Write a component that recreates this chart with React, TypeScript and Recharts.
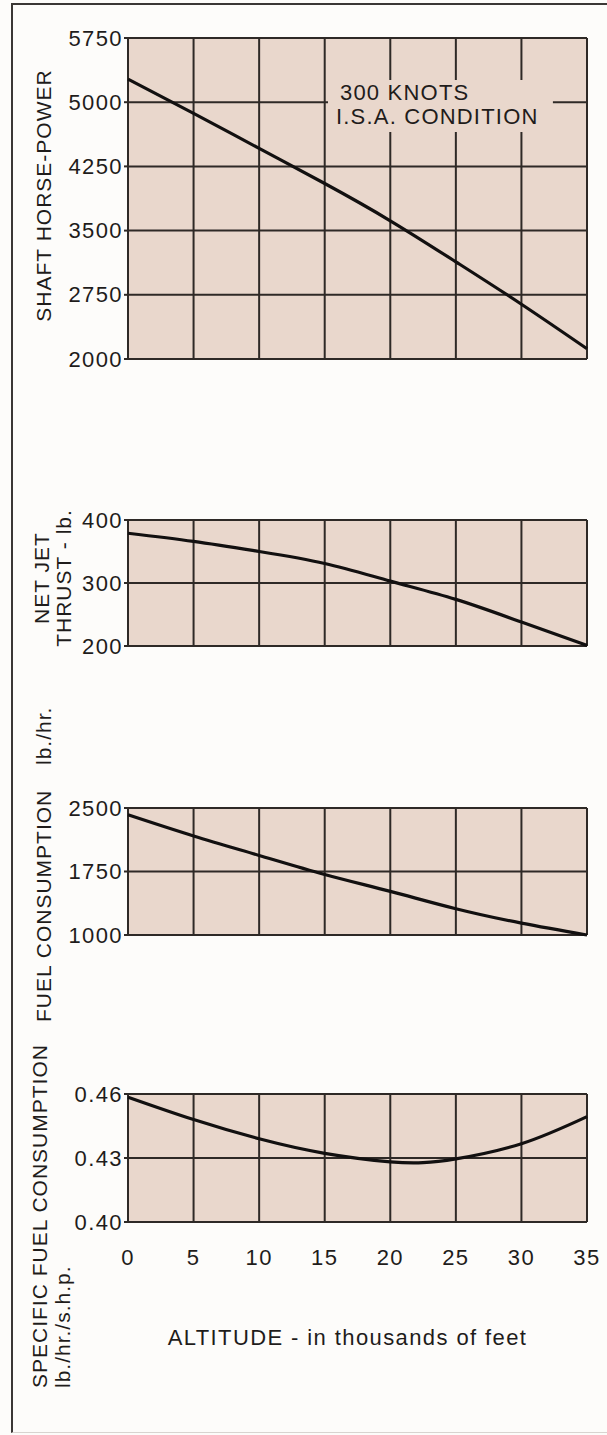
import { LineChart, Line, XAxis, YAxis, CartesianGrid, ReferenceArea } from 'recharts'

// altitude in thousands of feet
const altitude = [0, 5, 10, 15, 20, 25, 30, 35]
const shaftHorsePower = [5270, 4870, 4460, 4050, 3615, 3135, 2640, 2120]
const netJetThrust = [379, 366, 350, 331, 303, 274, 238, 201]
const fuelConsumption = [2420, 2170, 1940, 1715, 1515, 1310, 1140, 1000]
const sfcAltitude = [0, 5, 10, 15, 20, 22.5, 25, 30, 35]
const specificFuel = [0.4585, 0.448, 0.439, 0.4322, 0.4282, 0.4278, 0.4296, 0.4367, 0.4494]

const altitudeTicks = [0, 5, 10, 15, 20, 25, 30, 35]
const shpTicks = [2000, 2750, 3500, 4250, 5000, 5750]
const thrustTicks = [200, 300, 400]
const fuelTicks = [1000, 1750, 2500]
const sfcTicks = [0.4, 0.43, 0.46]

const shpData = altitude.map((alt, i) => ({ alt, value: shaftHorsePower[i] }))
const thrustData = altitude.map((alt, i) => ({ alt, value: netJetThrust[i] }))
const fuelData = altitude.map((alt, i) => ({ alt, value: fuelConsumption[i] }))
const sfcData = sfcAltitude.map((alt, i) => ({ alt, value: specificFuel[i] }))

const INK = '#1f1c1b'
const GRID = '#2e2926'
const PAPER = '#e9d7cc'
const FONT = '"Liberation Sans", Arial, sans-serif'
const textStyle = { fontFamily: FONT, fontSize: 22, letterSpacing: 1.4, fill: INK }
const sideStyle = { fontFamily: FONT, fontSize: 21, letterSpacing: 1, fill: INK }

type SideItem = { text: string; x: number; dy: number; anchor: 'start' | 'middle' }

const sideLabel = (items: SideItem[]) => (props: any) => {
  const vb = props.viewBox || { y: 0, height: 0 }
  const cy = vb.y + vb.height / 2
  return (
    <g>
      {items.map((it) => (
        <text
          key={it.text}
          transform={`translate(${it.x},${cy + it.dy}) rotate(-90)`}
          textAnchor={it.anchor}
          dominantBaseline="central"
          style={sideStyle}
        >
          {it.text}
        </text>
      ))}
    </g>
  )
}

const YTick = (format: (v: number) => string) => (props: any) => (
  <text x={props.x} y={props.y} textAnchor="end" dominantBaseline="central" style={textStyle}>
    {format(props.payload.value)}
  </text>
)

const XTick = (props: any) => (
  <text x={props.x} y={props.y} dy="0.71em" textAnchor="middle" style={textStyle}>
    {props.payload.value}
  </text>
)

type PanelProps = {
  top: number
  plotHeight: number
  data: { alt: number; value: number }[]
  ticks: number[]
  format?: (v: number) => string
  marginTop: number
  marginBottom: number
  showX?: boolean
  label: SideItem[]
  children?: React.ReactNode
}

function Panel({ top, plotHeight, data, ticks, format = (v) => String(v), marginTop, marginBottom, showX, label, children }: PanelProps) {
  const axisHeight = showX ? 200 : 0
  return (
    <div style={{ position: 'absolute', left: 0, top: top - marginTop }}>
      <LineChart
        width={607}
        height={marginTop + plotHeight + marginBottom + axisHeight}
        data={data}
        margin={{ top: marginTop, right: 20, bottom: marginBottom, left: 0 }}
      >
        <CartesianGrid stroke={GRID} strokeWidth={2} fill={PAPER} fillOpacity={1} />
        <XAxis
          dataKey="alt"
          type="number"
          domain={[0, 35]}
          ticks={altitudeTicks}
          hide={!showX}
          height={axisHeight}
          axisLine={false}
          tickLine={false}
          tickSize={0}
          tickMargin={27}
          tick={XTick}
          label={showX ? { content: altitudeLabel } : undefined}
        />
        <YAxis
          type="number"
          domain={[ticks[0], ticks[ticks.length - 1]]}
          ticks={ticks}
          width={128}
          axisLine={false}
          tickLine={{ stroke: GRID, strokeWidth: 2 }}
          tickSize={4}
          tickMargin={1}
          tick={YTick(format)}
          label={{ content: sideLabel(label) }}
        />
        {children}
        <Line
          type="natural"
          dataKey="value"
          stroke="#121010"
          strokeWidth={3.2}
          dot={false}
          isAnimationActive={false}
        />
      </LineChart>
    </div>
  )
}

const altitudeLabel = (props: any) => {
  const vb = props.viewBox || { x: 0, y: 0, width: 0 }
  return (
    <text x={vb.x + vb.width / 2 - 10} y={vb.y + 115} textAnchor="middle" dominantBaseline="central" style={textStyle}>
      ALTITUDE - in thousands of feet
    </text>
  )
}

const noteLabel = (props: any) => {
  const vb = props.viewBox || { x: 0, y: 0 }
  return (
    <g>
      <text x={vb.x + 12} y={vb.y + 20} style={{ ...textStyle, letterSpacing: 1.2 }}>300 KNOTS</text>
      <text x={vb.x + 8} y={vb.y + 43.5} style={{ ...textStyle, letterSpacing: 1.2 }}>I.S.A. CONDITION</text>
    </g>
  )
}

export default function App() {
  return (
    <div style={{ position: 'absolute', left: 0, top: 0, width: 607, height: 1435, background: '#fdfcfa', overflow: 'hidden' }}>
      <div
        style={{
          position: 'absolute',
          left: 11,
          top: 3,
          width: 640,
          height: 1427,
          borderLeft: '2px solid #3b3735',
          borderTop: '2px solid #3b3735',
          borderBottom: '1px solid #d8d4d0',
        }}
      />
      <Panel
        top={38}
        plotHeight={321}
        data={shpData}
        ticks={shpTicks}
        marginTop={25}
        marginBottom={25}
        label={[{ text: 'SHAFT HORSE-POWER', x: 43, dy: -3, anchor: 'middle' }]}
      >
        <ReferenceArea
          x1={15.25}
          x2={32.4}
          y1={4652}
          y2={5259}
          fill={PAPER}
          fillOpacity={1}
          stroke="none"
          label={{ content: noteLabel }}
        />
      </Panel>
      <Panel
        top={520}
        plotHeight={126}
        data={thrustData}
        ticks={thrustTicks}
        marginTop={25}
        marginBottom={25}
        label={[
          { text: 'NET JET', x: 41, dy: -5, anchor: 'middle' },
          { text: 'THRUST - lb.', x: 63, dy: -5, anchor: 'middle' },
        ]}
      />
      <Panel
        top={808}
        plotHeight={127}
        data={fuelData}
        ticks={fuelTicks}
        marginTop={110}
        marginBottom={95}
        label={[
          { text: 'FUEL CONSUMPTION', x: 43, dy: 150.5, anchor: 'start' },
          { text: 'lb./hr.', x: 43, dy: -106.5, anchor: 'start' },
        ]}
      />
      <Panel
        top={1094}
        plotHeight={128}
        data={sfcData}
        ticks={sfcTicks}
        format={(v) => v.toFixed(2)}
        marginTop={60}
        marginBottom={0}
        showX
        label={[
          { text: 'SPECIFIC FUEL CONSUMPTION', x: 39, dy: 230, anchor: 'start' },
          { text: 'lb./hr./s.h.p.', x: 62, dy: 230, anchor: 'start' },
        ]}
      />
    </div>
  )
}
